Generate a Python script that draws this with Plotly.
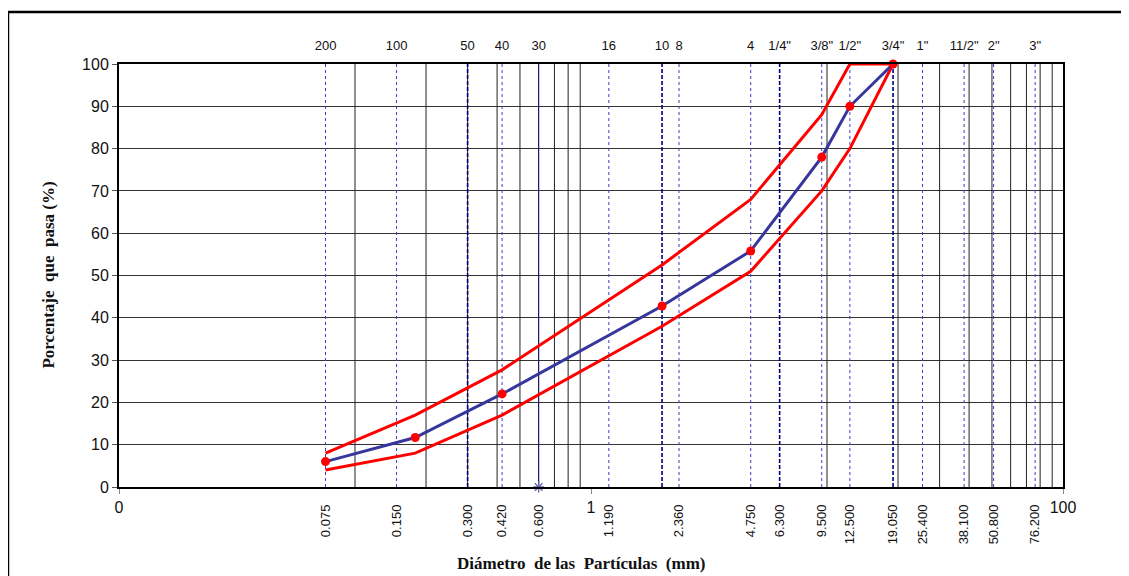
import math
import plotly.graph_objects as go

# Sieve openings (mm) and their mesh names, shown on the top axis
sieve_mm = [0.075, 0.150, 0.300, 0.420, 0.600, 1.190, 2.000, 2.360, 4.750,
            6.300, 9.500, 12.500, 19.050, 25.400, 38.100, 50.800, 76.200]
sieve_names = ["200", "100", "50", "40", "30", "16", "10", "8", "4",
               '1/4"', '3/8"', '1/2"', '3/4"', '1"', '11/2"', '2"', '3"']

# Openings written under the axis
bottom_mm = [0.075, 0.150, 0.300, 0.420, 0.600, 1.190, 2.360, 4.750, 6.300,
             9.500, 12.500, 19.050, 25.400, 38.100, 50.800, 76.200]
bottom_text = ["0.075", "0.150", "0.300", "0.420", "0.600", "1.190", "2.360",
               "4.750", "6.300", "9.500", "12.500", "19.050", "25.400",
               "38.100", "50.800", "76.200"]

# Reference lines: dotted blue, dashed navy, solid navy
dotted_mm = [0.075, 0.150, 0.420, 1.190, 2.360, 4.750, 9.500, 12.500,
             25.400, 38.100, 50.800, 76.200]
dashed_mm = [0.300, 2.000, 6.300, 19.050]
solid_mm = [0.600]

# Log grid lines drawn in black
grid_mm = [0.1, 0.2, 0.3, 0.4, 0.5, 0.6, 0.7, 0.8, 0.9,
           10, 20, 30, 40, 50, 60, 70, 80, 90]

# Gradation curve and specification band
curve_mm = [0.075, 0.18, 0.42, 2.0, 4.75, 9.5, 12.5, 19.05]
curve_pct = [6.0, 11.7, 22.0, 42.8, 55.8, 78.0, 90.0, 100.0]

upper_mm = [0.075, 0.18, 0.42, 2.0, 4.75, 9.5, 12.5, 19.05]
upper_pct = [8.0, 17.0, 27.7, 52.5, 68.0, 88.0, 100.0, 100.0]

lower_mm = [0.075, 0.18, 0.42, 2.0, 4.75, 9.5, 12.5, 19.05]
lower_pct = [4.0, 8.0, 17.0, 38.0, 51.0, 70.0, 80.0, 100.0]


def vlines(xs):
    x, y = [], []
    for v in xs:
        x += [v, v, None]
        y += [0, 100, None]
    return x, y


if __name__ == "__main__":

    fig = go.Figure()

    gx, gy = vlines(grid_mm)
    fig.add_trace(go.Scatter(x=gx, y=gy, mode='lines',
                             line=dict(color='#222222', width=1),
                             showlegend=False, hoverinfo='skip'))

    dx, dy = vlines(dotted_mm)
    fig.add_trace(go.Scatter(x=dx, y=dy, mode='lines',
                             line=dict(color='#3c3cc8', width=1, dash='dot'),
                             showlegend=False, hoverinfo='skip'))

    dx, dy = vlines(dashed_mm)
    fig.add_trace(go.Scatter(x=dx, y=dy, mode='lines',
                             line=dict(color='#000080', width=1.6, dash='4px,2px'),
                             showlegend=False, hoverinfo='skip'))

    sx, sy = vlines(solid_mm)
    fig.add_trace(go.Scatter(x=sx, y=sy, mode='lines',
                             line=dict(color='#1a1a80', width=1),
                             showlegend=False, hoverinfo='skip'))

    # asterisk at the foot of the 0.600 line
    fig.add_trace(go.Scatter(x=solid_mm, y=[0], mode='markers',
                             marker=dict(symbol='asterisk-open', size=9,
                                         color='#6666aa',
                                         line=dict(color='#6666aa', width=1.3)),
                             cliponaxis=False, showlegend=False))

    fig.add_trace(go.Scatter(x=upper_mm, y=upper_pct, mode='lines',
                             line=dict(color='#ff0000', width=3),
                             showlegend=False))
    fig.add_trace(go.Scatter(x=lower_mm, y=lower_pct, mode='lines',
                             line=dict(color='#ff0000', width=3),
                             showlegend=False))
    fig.add_trace(go.Scatter(x=curve_mm, y=curve_pct, mode='lines+markers',
                             line=dict(color='#36369c', width=3),
                             marker=dict(color='#ff0000', size=9),
                             cliponaxis=False, showlegend=False))

    # axis only for the rotated sieve openings under the plot
    fig.add_trace(go.Scatter(x=bottom_mm, y=[None] * len(bottom_mm),
                             xaxis='x3', showlegend=False, hoverinfo='skip'))
    # axis only for the mesh names on top
    fig.add_trace(go.Scatter(x=sieve_mm, y=[None] * len(sieve_mm),
                             xaxis='x2', showlegend=False, hoverinfo='skip'))

    # the page body adds 8px around the figure, margins account for it
    fig.update_layout(
        width=1129,
        height=576,
        autosize=False,
        margin=dict(t=56, b=97, l=111, r=74, autoexpand=False),
        paper_bgcolor='white',
        plot_bgcolor='white',
        font=dict(family='Liberation Sans, Arial', color='#111111'),
        xaxis=dict(type='log', range=[-2, 2], automargin=False,
                   tickvals=[0.01, 1, 100], ticktext=['0', '1', '100'],
                   ticks='outside', ticklen=5, tickcolor='#888888',
                   tickfont=dict(size=16),
                   showgrid=False, zeroline=False,
                   showline=True, linecolor='black', linewidth=2, mirror=True),
        xaxis2=dict(type='log', range=[-2, 2], overlaying='x', side='top',
                    anchor='y', automargin=False,
                    tickvals=sieve_mm, ticktext=sieve_names,
                    ticks='', ticklabelstandoff=10, tickfont=dict(size=13),
                    showgrid=False, zeroline=False, showline=False),
        xaxis3=dict(type='log', range=[-2, 2], overlaying='x', side='bottom',
                    anchor='y', automargin=False,
                    tickvals=bottom_mm, ticktext=bottom_text,
                    tickangle=-90, ticks='', ticklabelstandoff=14,
                    tickfont=dict(size=13),
                    showgrid=False, zeroline=False, showline=False),
        yaxis=dict(range=[0, 100], dtick=10, automargin=False,
                   ticks='outside', ticklen=5, tickcolor='#555555',
                   tickfont=dict(size=16),
                   showgrid=True, gridcolor='#333333', gridwidth=1,
                   zeroline=False,
                   showline=True, linecolor='black', linewidth=2, mirror=True),
    )

    fig.update_layout(
        annotations=[
            dict(text='<b>Porcentaje  que  pasa (%)</b>', textangle=-90,
                 x=-0.0752, y=0.5, xref='paper', yref='paper',
                 xanchor='center', yanchor='middle',
                 showarrow=False,
                 font=dict(family='Liberation Serif, Times New Roman', size=17)),
            dict(text='<b>Diámetro  de las  Partículas  (mm)</b>',
                 x=0.49, y=-0.18, xref='paper', yref='paper',
                 xanchor='center', yanchor='middle',
                 showarrow=False,
                 font=dict(family='Liberation Serif, Times New Roman', size=17)),
        ],
        shapes=[
            dict(type='rect', xref='paper', yref='paper',
                 x0=-0.1176, x1=1.08, y0=-0.25, y1=1.123,
                 line=dict(color='black', width=2.5)),
        ],
    )

    fig.write_html("out.html")
